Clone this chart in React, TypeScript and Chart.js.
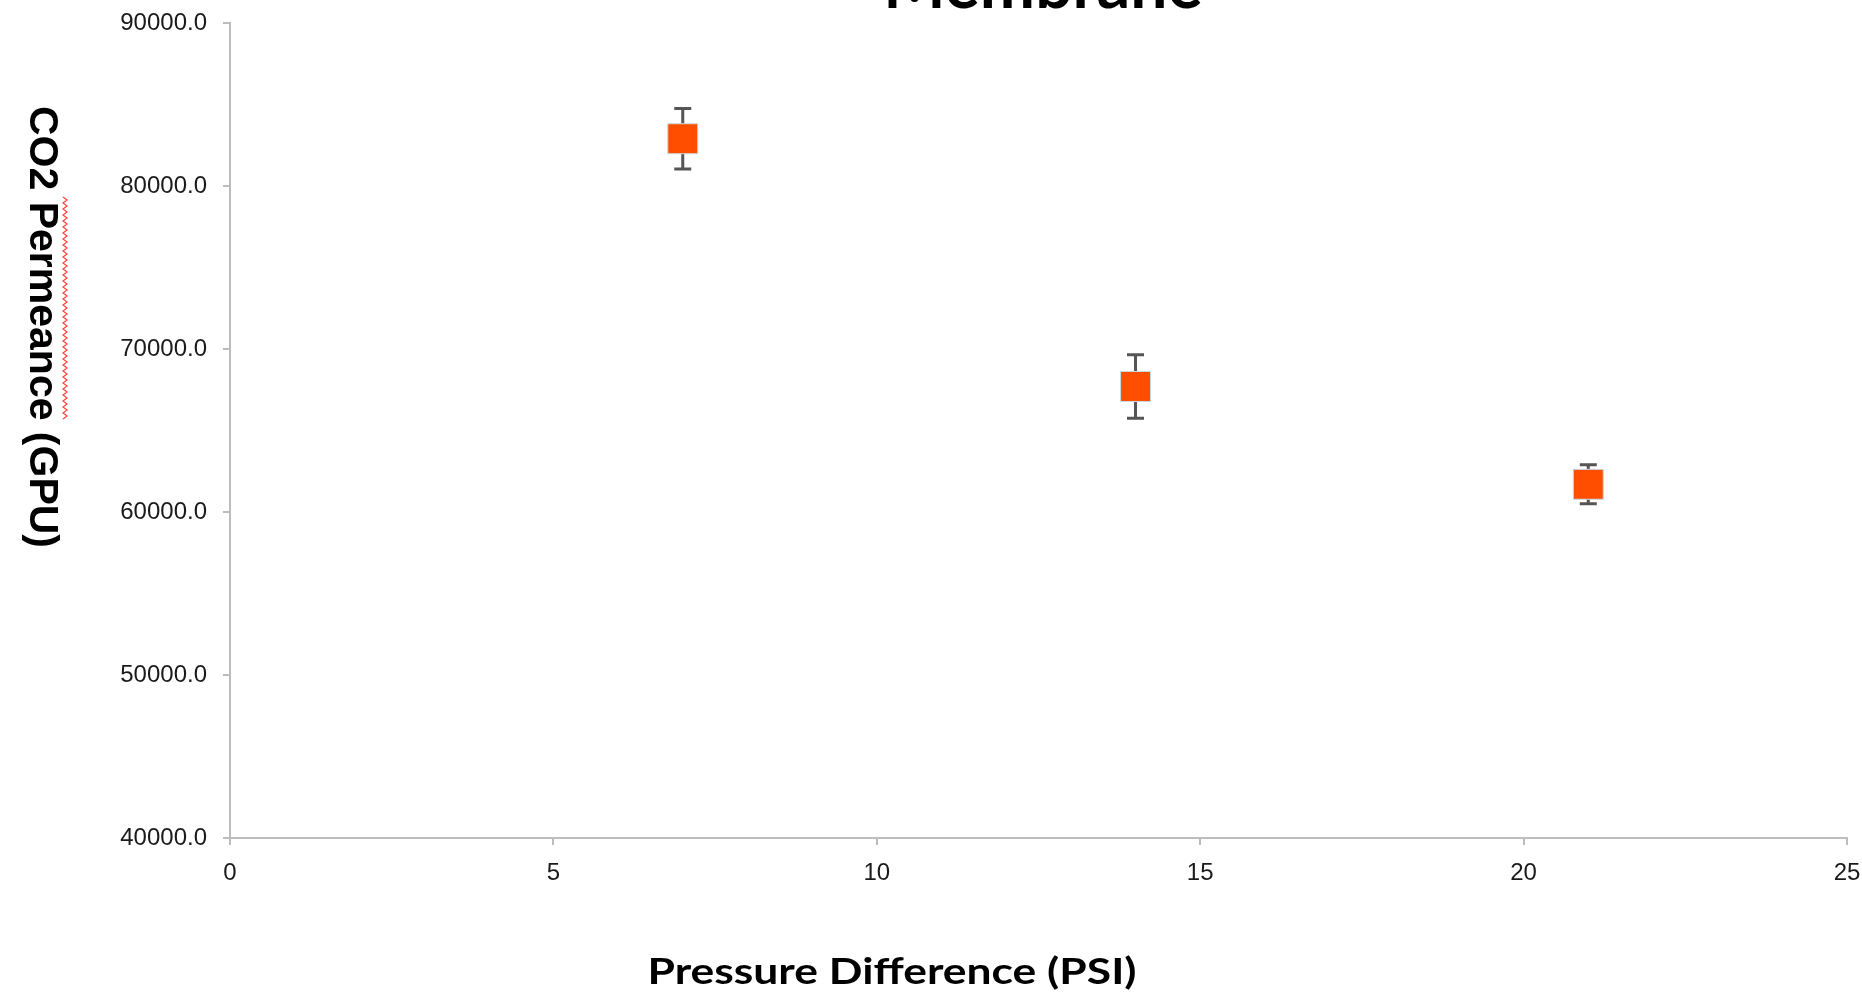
import React, { useEffect, useRef } from 'react';
import { Chart, registerables } from 'chart.js';

Chart.register(...registerables);

// ---- data ----
const pressureDiff = [7, 14, 21];
const permeance = [82900, 67700, 61700];
const permeanceErr = [1850, 1950, 1200];
const xMin = 0;
const xMax = 25;
const xStep = 5;
const yMin = 40000;
const yMax = 90000;
const yStep = 10000;
const chartTitle = 'Membrane';
const xTitle = 'Pressure Difference (PSI)';
const yTitle = 'CO2 Permeance (GPU)';

const errorBarPlugin = {
  id: 'errorBars',
  beforeDatasetsDraw(chart: any) {
    const { ctx, scales } = chart;
    const xs = scales.x;
    const ys = scales.y;
    ctx.save();
    ctx.strokeStyle = '#555555';
    ctx.lineWidth = 3;
    pressureDiff.forEach((p, i) => {
      const x = xs.getPixelForValue(p);
      const yTop = ys.getPixelForValue(permeance[i] + permeanceErr[i]);
      const yBot = ys.getPixelForValue(permeance[i] - permeanceErr[i]);
      ctx.beginPath();
      ctx.moveTo(x, yTop);
      ctx.lineTo(x, yBot);
      ctx.moveTo(x - 8.5, yTop);
      ctx.lineTo(x + 8.5, yTop);
      ctx.moveTo(x - 8.5, yBot);
      ctx.lineTo(x + 8.5, yBot);
      ctx.stroke();
    });
    ctx.restore();
  },
};

const titlesPlugin = {
  id: 'titles',
  afterDraw(chart: any) {
    const { ctx } = chart;
    ctx.save();
    ctx.fillStyle = '#000000';
    // main title (cut off at top)
    ctx.font = 'bold 66px Lato';
    ctx.textAlign = 'center';
    ctx.textBaseline = 'alphabetic';
    ctx.fillText(chartTitle, 1043, 8);
    // x title (wide bold face)
    ctx.save();
    ctx.font = 'bold 36px Lato';
    const w = ctx.measureText(xTitle).width;
    ctx.translate(892, 984);
    ctx.scale(489 / w, 1);
    ctx.fillText(xTitle, 0, 0);
    ctx.restore();
    // y title, reading top to bottom
    ctx.translate(41, 327);
    ctx.rotate(Math.PI / 2);
    ctx.font = 'bold 41px "Liberation Sans"';
    ctx.textBaseline = 'middle';
    ctx.fillText(yTitle, 0, 0);
    ctx.restore();
    // spell-check squiggle
    ctx.save();
    ctx.strokeStyle = '#ff4040';
    ctx.lineWidth = 1.2;
    ctx.beginPath();
    let up = true;
    for (let y = 197; y <= 421; y += 3) {
      const x = up ? 63 : 67;
      if (y === 197) ctx.moveTo(x, y);
      else ctx.lineTo(x, y);
      up = !up;
    }
    ctx.stroke();
    ctx.restore();
  },
};

export default function App() {
  const canvasRef = useRef<HTMLCanvasElement | null>(null);

  useEffect(() => {
    const canvas = canvasRef.current;
    if (!canvas) return;
    const chart = new Chart(canvas, {
      type: 'scatter',
      data: {
        datasets: [
          {
            data: pressureDiff.map((p, i) => ({ x: p, y: permeance[i] })),
            pointStyle: 'rect',
            pointRadius: 21.2,
            pointHoverRadius: 21.2,
            backgroundColor: '#ff4e00',
            borderColor: '#c8dde3',
            borderWidth: 1,
            clip: false,
          },
        ],
      },
      options: {
        animation: false,
        responsive: false,
        maintainAspectRatio: false,
        layout: { autoPadding: false, padding: { left: 0, top: 23, right: 15, bottom: 0 } },
        plugins: {
          legend: { display: false },
          tooltip: { enabled: false },
          title: { display: false },
        },
        scales: {
          x: {
            type: 'linear',
            position: 'bottom',
            min: xMin,
            max: xMax,
            afterFit: (s: any) => {
              s.height = 157;
              s.paddingLeft = 0;
              s.paddingRight = 0;
              s.paddingTop = 0;
              s.paddingBottom = 0;
            },
            ticks: {
              stepSize: xStep,
              color: '#1a1a1a',
              font: { family: '"Liberation Sans", Arial', size: 24 },
              padding: 14,
              maxRotation: 0,
            },
            grid: { drawOnChartArea: false, drawTicks: true, tickLength: 7, color: '#bdbdbd', lineWidth: 2 },
            border: { color: '#bdbdbd', width: 2 },
          },
          y: {
            type: 'linear',
            min: yMin,
            max: yMax,
            afterFit: (s: any) => {
              s.width = 230;
              s.paddingLeft = 0;
              s.paddingRight = 0;
              s.paddingTop = 0;
              s.paddingBottom = 0;
            },
            ticks: {
              stepSize: yStep,
              color: '#1a1a1a',
              font: { family: '"Liberation Sans", Arial', size: 24 },
              padding: 16,
              callback: (v: any) => Number(v).toFixed(1),
            },
            grid: { drawOnChartArea: false, drawTicks: true, tickLength: 7, color: '#bdbdbd', lineWidth: 2 },
            border: { color: '#bdbdbd', width: 2 },
          },
        },
      },
      plugins: [errorBarPlugin, titlesPlugin],
    });
    return () => chart.destroy();
  }, []);

  return (
    <div style={{ position: 'fixed', left: 0, top: 0, width: 1862, height: 995, background: '#ffffff' }}>
      <canvas ref={canvasRef} width={1862} height={995} style={{ width: 1862, height: 995, display: 'block' }} />
    </div>
  );
}
